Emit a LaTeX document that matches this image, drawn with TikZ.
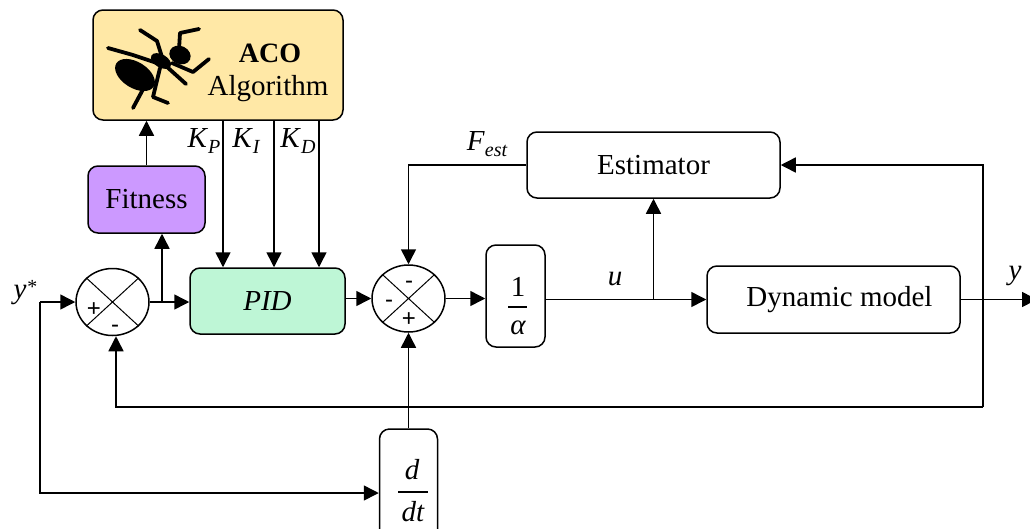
\documentclass[tikz,border=0pt]{standalone}
\usepackage{fontspec}
\setmainfont{Liberation Serif}
\newfontfamily\signfont{Liberation Sans}
\usetikzlibrary{arrows.meta,shapes.geometric}
\definecolor{acofill}{RGB}{255,232,166}
\definecolor{fitfill}{RGB}{204,153,255}
\definecolor{pidfill}{RGB}{190,246,214}
% italic symbol with a lowered italic index
\newcommand\isub[2]{\textit{#1}\raisebox{-6pt}{\fontsize{20}{21}\selectfont\itshape #2}}
\begin{document}
\begin{tikzpicture}[x=1pt,y=-1pt,
  every node/.style={font=\fontsize{29}{33}\selectfont},
  blk/.style={draw, line width=1.5pt, rounded corners=10pt, inner sep=0pt},
  sumj/.style={draw, ellipse, line width=1.5pt, minimum width=73pt, minimum height=67pt, inner sep=0pt},
  wire/.style={line width=1.5pt},
  sig/.style={wire, -{Triangle[length=15pt,width=15pt]}},
  var/.style={font=\fontsize{29}{33}\selectfont\itshape, inner sep=0pt},
  pm/.style={font=\signfont\fontsize{24}{26}\selectfont, inner sep=0pt},
  antleg/.style={line width=3.8pt, line cap=round, line join=round},
]
\useasboundingbox (0,0) rectangle (1030,528);

% ---- blocks ----
\node[blk, fill=acofill, minimum width=250pt, minimum height=110pt] (aco) at (218,65) {};
\node[font=\fontsize{28}{32}\selectfont\bfseries] (acot) at (270,53) {ACO};
\node (algt) at (268,89) {Algorithm};

\node[blk, fill=fitfill, minimum width=117pt, minimum height=67pt] (fit) at (146.5,199.5) {Fitness};
\node[blk, fill=pidfill, minimum width=155pt, minimum height=66pt, font=\fontsize{29}{33}\selectfont\itshape] (pid) at (267.5,301) {PID};
\node[blk, minimum width=253pt, minimum height=66pt] (est) at (653.5,165) {Estimator};
\node[blk, minimum width=59pt, minimum height=102pt] (oa) at (515.5,296) {};
\node[blk, minimum width=253pt, minimum height=67pt] (dyn) at (833.5,299.5) {\hspace*{12pt}Dynamic model};
\node[blk, minimum width=58pt, minimum height=128pt] (ddt) at (408.5,493) {};

% ---- fractions ----
\node (one) at (518,287) {1};
\node[var] (alpha) at (518,328) {α};
\draw[line width=1.4pt] (508,307) -- (527,307);
\node[var] (dnum) at (412,470) {d};
\node[var] (dden) at (413,512) {dt};
\draw[line width=1.4pt] (398,492) -- (428,492);

% ---- summing junctions ----
\node[sumj] (s1) at (112.5,302) {};
\draw[line width=1pt] (s1.north west) -- (s1.south east) (s1.north east) -- (s1.south west);
\node[pm] at (94,310) {+};
\node[pm] at (115,329) {-};

\node[sumj] (s2) at (408.5,298.5) {};
\draw[line width=1pt] (s2.north west) -- (s2.south east) (s2.north east) -- (s2.south west);
\node[pm] at (409,285) {-};
\node[pm] at (389,304) {-};
\node[pm] at (409,320) {+};

% ---- ant ----
\begin{scope}
  \draw[antleg] (157,63) -- (133,55) -- (108,48);
  \draw[antleg] (162,57) -- (157,41) -- (140,30);
  \draw[antleg] (179,50) -- (180,33) -- (199,29);
  \draw[antleg] (172,63) -- (193,72) -- (209,59);
  \draw[antleg] (148,80) -- (133,108);
  \draw[antleg] (160,68) -- (153,97) -- (168,103);
  \draw[antleg] (166,66) -- (186,84);
  \fill[rotate around={-32:(135,75)}] (135,75) ellipse [x radius=22, y radius=13];
  \fill[rotate around={-30:(161,61)}] (161,61) ellipse [x radius=11, y radius=6.5];
  \fill[rotate around={-25:(180,55)}] (180,55) ellipse [x radius=11, y radius=9];
\end{scope}

% ---- connectors ----
\coordinate (ystar) at (40,302);
\node[var] (ystl) at (25,293) {y\raisebox{5pt}{\fontsize{20}{22}\selectfont *}};
\draw[sig] (ystar) -- (s1.west);
\draw[sig] (s1.east) -- (s1.east -| pid.west);
\coordinate (fitbr) at (162,302);
\draw[sig] (fitbr) -- (fitbr |- fit.south);
\draw[sig] (fit.north) -- (fit.north |- aco.south);

\draw[sig] ([xshift=5pt]aco.south) -- ([xshift=5pt]aco.south |- pid.north);
\draw[sig] ([xshift=56pt]aco.south) -- ([xshift=56pt]aco.south |- pid.north);
\draw[sig] ([xshift=101pt]aco.south) -- ([xshift=101pt]aco.south |- pid.north);
\node (kp) at (204,141) {\isub{K}{P}};
\node (ki) at (246,141) {\isub{K}{I}};
\node (kd) at (298,141) {\isub{K}{D}};

\draw[sig] (s2.west -| pid.east) -- (s2.west);
\draw[sig] (est.west) -- (est.west -| s2.north) -- (s2.north);
\node (fest) at (487,144) {\isub{F}{est}};
\draw[sig] (s2.east) -- (s2.east -| oa.west);
\draw[sig] (dyn.west -| oa.east) -- (dyn.west);
\draw[sig] (est.south |- dyn.west) -- (est.south);
\node[var] (ul) at (615,279) {u};

\coordinate (yout) at (1037,299.5);
\draw[sig] (dyn.east) -- (yout);
\node[var] (yl) at (1015,276) {y};

\coordinate (fbbot) at (983,407);
\coordinate (fbin) at ([xshift=3.5pt]s1.south);
\draw[sig] (fbbot) -- (fbbot |- est.east) -- (est.east);
\draw[sig] (fbbot) -- (fbbot -| fbin) -- (fbin);

\draw[sig] (ddt.north) -- (s2.south);
\draw[sig] (ystar) -- (ystar |- ddt.west) -- (ddt.west);
\end{tikzpicture}
\end{document}
